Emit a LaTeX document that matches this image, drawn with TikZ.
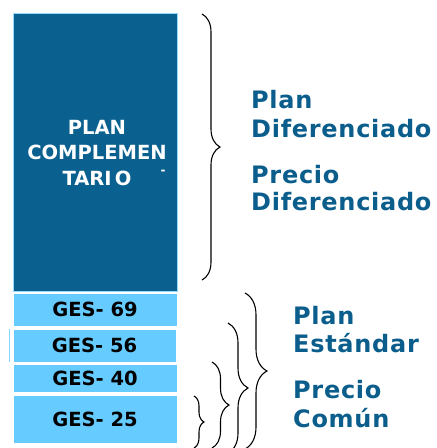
\documentclass[tikz,border=0pt]{standalone}
\usepackage{fontspec}
\usepackage{tikz}
\usetikzlibrary{decorations.pathreplacing}
\newfontfamily\boxfont{DejaVu Sans}
\newfontfamily\sidefont[LetterSpace=3]{DejaVu Sans}

\definecolor{planblue}{RGB}{10,97,143}
\definecolor{gesblue}{RGB}{102,204,255}
\definecolor{textblue}{RGB}{11,94,140}

\begin{document}
\begin{tikzpicture}[
		x=1pt, y=-1pt,
		thin,
		every node/.style={inner sep=0pt},
		plan/.style={fill=planblue,draw=gesblue!70,line width=0.6pt,minimum width=164pt,minimum height=278pt},
		ges/.style={fill=gesblue,draw=white,line width=0.6pt,minimum width=164pt,font=\boxfont\bfseries\fontsize{19.5}{23}\selectfont},
		side/.style={anchor=base west,text=textblue,font=\sidefont\bfseries\fontsize{24}{29}\selectfont},
		curly/.style={decorate,decoration={brace,amplitude=#1},line width=1.1pt}
	]
		\useasboundingbox (0,0) rectangle (437,448);
		\clip (0,0) rectangle (437,448);

		% Boxes
		\node[plan] (comp) at (95,152) {};
		\node[ges,minimum height=33pt] (g69) at (95,309.5) {GES- 69};
		\node[ges,minimum height=33pt,minimum width=163pt] (g56) at (94.5,345.5) {GES- 56};
		\node[ges,minimum height=28pt] (g40) at (95,378) {GES- 40};
		\node[ges,minimum height=48pt] (g25) at (95,419) {GES- 25};
		\draw[gesblue!80,line width=0.8pt] (9.5,329) -- (9.5,362);

		% Box text
		\node[text=white,align=center,font=\boxfont\bfseries\fontsize{19.5}{25.5}\selectfont] (comptxt) at (97,153) {PLAN\\COMPLEMEN\\TARI\,O};
		\node[text=white,font=\boxfont\bfseries\fontsize{12}{12}\selectfont] (dash) at (163,172) {-};

		% Braces
		\coordinate (b0t) at (202,14);   \coordinate (b0b) at (202,280);
		\coordinate (b1t) at (245,293);  \coordinate (b1b) at (245,449);
		\coordinate (b2t) at (228,323);  \coordinate (b2b) at (228,453);
		\coordinate (b3t) at (212,362);  \coordinate (b3b) at (212,448);
		\coordinate (b4t) at (194,396);  \coordinate (b4b) at (194,448);
		\draw[curly=18pt] (b0t) -- (b0b);
		\draw[curly=22pt] (b1t) -- (b1b);
		\draw[curly=20pt] (b2t) -- (b2b);
		\draw[curly=17pt] (b3t) -- (b3b);
		\draw[curly=10pt] (b4t) -- (b4b);

		% Labels
		\node[side] (pl1) at (251,108) {Plan};
		\node[side] (df1) at (251,137) {Diferenciado};
		\node[side] (pr1) at (251,183) {Precio};
		\node[side] (df2) at (251,210) {Diferenciado};
		\node[side] (pl2) at (293,324) {Plan};
		\node[side] (est) at (293,352) {Estándar};
		\node[side] (pr2) at (293,398) {Precio};
		\node[side] (com) at (293,427) {Común};
	\end{tikzpicture}
\end{document}
